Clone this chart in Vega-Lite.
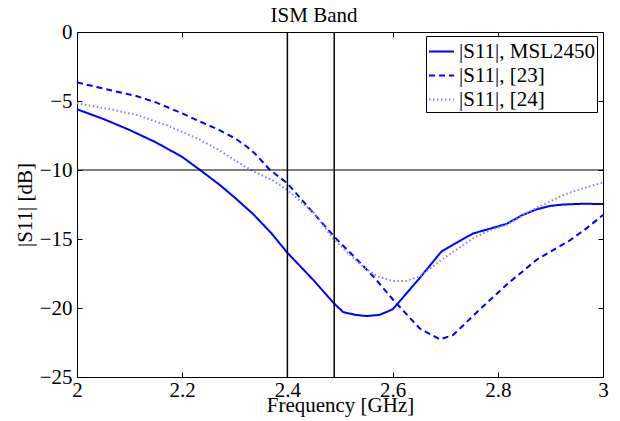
{
  "$schema": "https://vega.github.io/schema/vega-lite/v6.json",
  "width": 526,
  "height": 345,
  "autosize": {"type": "none"},
  "padding": {"left": 77, "top": 32, "right": 17, "bottom": 44},
  "background": "white",
  "title": {"text": "ISM Band", "dx": -26},
  "datasets": {
    "curves": [
      {"series": "|S11|, MSL2450", "f": 2.00, "s11": -5.6},
      {"series": "|S11|, MSL2450", "f": 2.05, "s11": -6.3},
      {"series": "|S11|, MSL2450", "f": 2.10, "s11": -7.1},
      {"series": "|S11|, MSL2450", "f": 2.15, "s11": -8.0},
      {"series": "|S11|, MSL2450", "f": 2.20, "s11": -9.05},
      {"series": "|S11|, MSL2450", "f": 2.234, "s11": -10.0},
      {"series": "|S11|, MSL2450", "f": 2.272, "s11": -11.1},
      {"series": "|S11|, MSL2450", "f": 2.30, "s11": -12.0},
      {"series": "|S11|, MSL2450", "f": 2.335, "s11": -13.2},
      {"series": "|S11|, MSL2450", "f": 2.37, "s11": -14.6},
      {"series": "|S11|, MSL2450", "f": 2.40, "s11": -16.0},
      {"series": "|S11|, MSL2450", "f": 2.45, "s11": -18.0},
      {"series": "|S11|, MSL2450", "f": 2.487, "s11": -19.6},
      {"series": "|S11|, MSL2450", "f": 2.506, "s11": -20.3},
      {"series": "|S11|, MSL2450", "f": 2.53, "s11": -20.5},
      {"series": "|S11|, MSL2450", "f": 2.55, "s11": -20.58},
      {"series": "|S11|, MSL2450", "f": 2.575, "s11": -20.5},
      {"series": "|S11|, MSL2450", "f": 2.60, "s11": -20.1},
      {"series": "|S11|, MSL2450", "f": 2.65, "s11": -17.9},
      {"series": "|S11|, MSL2450", "f": 2.693, "s11": -15.9},
      {"series": "|S11|, MSL2450", "f": 2.72, "s11": -15.3},
      {"series": "|S11|, MSL2450", "f": 2.753, "s11": -14.6},
      {"series": "|S11|, MSL2450", "f": 2.79, "s11": -14.2},
      {"series": "|S11|, MSL2450", "f": 2.817, "s11": -13.9},
      {"series": "|S11|, MSL2450", "f": 2.845, "s11": -13.3},
      {"series": "|S11|, MSL2450", "f": 2.874, "s11": -12.85},
      {"series": "|S11|, MSL2450", "f": 2.90, "s11": -12.6},
      {"series": "|S11|, MSL2450", "f": 2.925, "s11": -12.5},
      {"series": "|S11|, MSL2450", "f": 2.96, "s11": -12.45},
      {"series": "|S11|, MSL2450", "f": 3.00, "s11": -12.46},
      {"series": "|S11|, [23]", "f": 2.00, "s11": -3.65},
      {"series": "|S11|, [23]", "f": 2.05, "s11": -4.1},
      {"series": "|S11|, [23]", "f": 2.113, "s11": -4.64},
      {"series": "|S11|, [23]", "f": 2.15, "s11": -5.1},
      {"series": "|S11|, [23]", "f": 2.20, "s11": -5.9},
      {"series": "|S11|, [23]", "f": 2.2275, "s11": -6.38},
      {"series": "|S11|, [23]", "f": 2.27, "s11": -7.1},
      {"series": "|S11|, [23]", "f": 2.30, "s11": -7.7},
      {"series": "|S11|, [23]", "f": 2.323, "s11": -8.31},
      {"series": "|S11|, [23]", "f": 2.338, "s11": -8.8},
      {"series": "|S11|, [23]", "f": 2.367, "s11": -10.0},
      {"series": "|S11|, [23]", "f": 2.40, "s11": -10.97},
      {"series": "|S11|, [23]", "f": 2.456, "s11": -13.4},
      {"series": "|S11|, [23]", "f": 2.489, "s11": -14.83},
      {"series": "|S11|, [23]", "f": 2.53, "s11": -16.4},
      {"series": "|S11|, [23]", "f": 2.563, "s11": -17.7},
      {"series": "|S11|, [23]", "f": 2.601, "s11": -19.4},
      {"series": "|S11|, [23]", "f": 2.652, "s11": -21.5},
      {"series": "|S11|, [23]", "f": 2.69, "s11": -22.27},
      {"series": "|S11|, [23]", "f": 2.715, "s11": -21.96},
      {"series": "|S11|, [23]", "f": 2.766, "s11": -20.1},
      {"series": "|S11|, [23]", "f": 2.817, "s11": -18.3},
      {"series": "|S11|, [23]", "f": 2.874, "s11": -16.5},
      {"series": "|S11|, [23]", "f": 2.937, "s11": -15.1},
      {"series": "|S11|, [23]", "f": 2.968, "s11": -14.25},
      {"series": "|S11|, [23]", "f": 3.00, "s11": -13.26},
      {"series": "|S11|, [24]", "f": 2.00, "s11": -5.17},
      {"series": "|S11|, [24]", "f": 2.05, "s11": -5.5},
      {"series": "|S11|, [24]", "f": 2.113, "s11": -6.0},
      {"series": "|S11|, [24]", "f": 2.17, "s11": -6.75},
      {"series": "|S11|, [24]", "f": 2.228, "s11": -7.7},
      {"series": "|S11|, [24]", "f": 2.272, "s11": -8.6},
      {"series": "|S11|, [24]", "f": 2.30, "s11": -9.3},
      {"series": "|S11|, [24]", "f": 2.335, "s11": -10.1},
      {"series": "|S11|, [24]", "f": 2.37, "s11": -10.7},
      {"series": "|S11|, [24]", "f": 2.40, "s11": -11.45},
      {"series": "|S11|, [24]", "f": 2.45, "s11": -13.1},
      {"series": "|S11|, [24]", "f": 2.487, "s11": -14.95},
      {"series": "|S11|, [24]", "f": 2.52, "s11": -16.2},
      {"series": "|S11|, [24]", "f": 2.544, "s11": -17.0},
      {"series": "|S11|, [24]", "f": 2.57, "s11": -17.7},
      {"series": "|S11|, [24]", "f": 2.601, "s11": -18.04},
      {"series": "|S11|, [24]", "f": 2.625, "s11": -18.05},
      {"series": "|S11|, [24]", "f": 2.652, "s11": -17.7},
      {"series": "|S11|, [24]", "f": 2.69, "s11": -16.6},
      {"series": "|S11|, [24]", "f": 2.72, "s11": -15.8},
      {"series": "|S11|, [24]", "f": 2.753, "s11": -14.95},
      {"series": "|S11|, [24]", "f": 2.783, "s11": -14.4},
      {"series": "|S11|, [24]", "f": 2.817, "s11": -13.95},
      {"series": "|S11|, [24]", "f": 2.861, "s11": -13.0},
      {"series": "|S11|, [24]", "f": 2.893, "s11": -12.4},
      {"series": "|S11|, [24]", "f": 2.925, "s11": -11.8},
      {"series": "|S11|, [24]", "f": 2.956, "s11": -11.4},
      {"series": "|S11|, [24]", "f": 3.00, "s11": -10.9}
    ],
    "vlines": [{"f": 2.4}, {"f": 2.489}],
    "hlines": [{"v": -10}]
  },
  "layer": [
    {
      "data": {"name": "curves"},
      "mark": {"type": "line", "strokeWidth": 2},
      "encoding": {
        "x": {"field": "f", "type": "quantitative", "scale": {"domain": [2, 3], "nice": false, "zero": false},
              "axis": {"orient": "bottom", "values": [2, 2.2, 2.4, 2.6, 2.8, 3], "format": "~g", "labelPadding": 7, "labelFlush": false, "labelOverlap": false, "title": "Frequency [GHz]", "titlePadding": -6}},
        "y": {"field": "s11", "type": "quantitative", "scale": {"domain": [-25, 0], "nice": false, "zero": false},
              "axis": {"orient": "left", "values": [-25, -20, -15, -10, -5, 0], "labelPadding": 10, "labelFlush": false, "labelOverlap": false, "title": "|S11| [dB]", "titlePadding": 4}},
        "color": {"field": "series", "type": "nominal", "scale": {"domain": ["|S11|, MSL2450", "|S11|, [23]", "|S11|, [24]"], "range": ["#0000ff", "#0000ff", "#8080ff"]}, "title": null},
        "strokeDash": {"field": "series", "type": "nominal", "scale": {"domain": ["|S11|, MSL2450", "|S11|, [23]", "|S11|, [24]"], "range": [[1, 0], [6, 4], [1.5, 2.5]]}, "title": null},
        "order": {"field": "f", "type": "quantitative"}
      }
    },
    {
      "data": {"name": "vlines"},
      "mark": {"type": "rule", "color": "black", "strokeWidth": 1.5},
      "encoding": {
        "x": {"field": "f", "type": "quantitative", "axis": {"orient": "top", "values": [2, 2.2, 2.4, 2.6, 2.8, 3], "labels": false, "title": null}}
      }
    },
    {
      "data": {"name": "hlines"},
      "mark": {"type": "rule", "color": "black", "strokeWidth": 1.2},
      "encoding": {
        "y": {"field": "v", "type": "quantitative", "axis": {"orient": "right", "values": [-25, -20, -15, -10, -5, 0], "labels": false, "title": null}}
      }
    }
  ],
  "resolve": {"axis": {"x": "independent", "y": "independent"}},
  "config": {
    "view": {"stroke": "black", "strokeWidth": 1},
    "font": "Liberation Serif",
    "axis": {"grid": false, "domain": false, "tickColor": "black", "tickSize": -5, "labelFont": "Liberation Serif", "labelFontSize": 21, "labelColor": "black", "titleFont": "Liberation Serif", "titleFontSize": 21, "titleFontWeight": "normal", "titleColor": "black"},
    "title": {"font": "Liberation Serif", "fontSize": 21, "fontWeight": "normal", "color": "black", "offset": -5},
    "legend": {"orient": "none", "legendX": 349, "legendY": 4, "strokeColor": "black", "fillColor": "white", "padding": 2, "rowPadding": 0, "symbolType": "stroke", "symbolSize": 625, "symbolStrokeWidth": 2, "labelFont": "Liberation Serif", "labelFontSize": 21, "labelColor": "black", "labelOffset": 4, "labelLimit": 300}
  }
}
